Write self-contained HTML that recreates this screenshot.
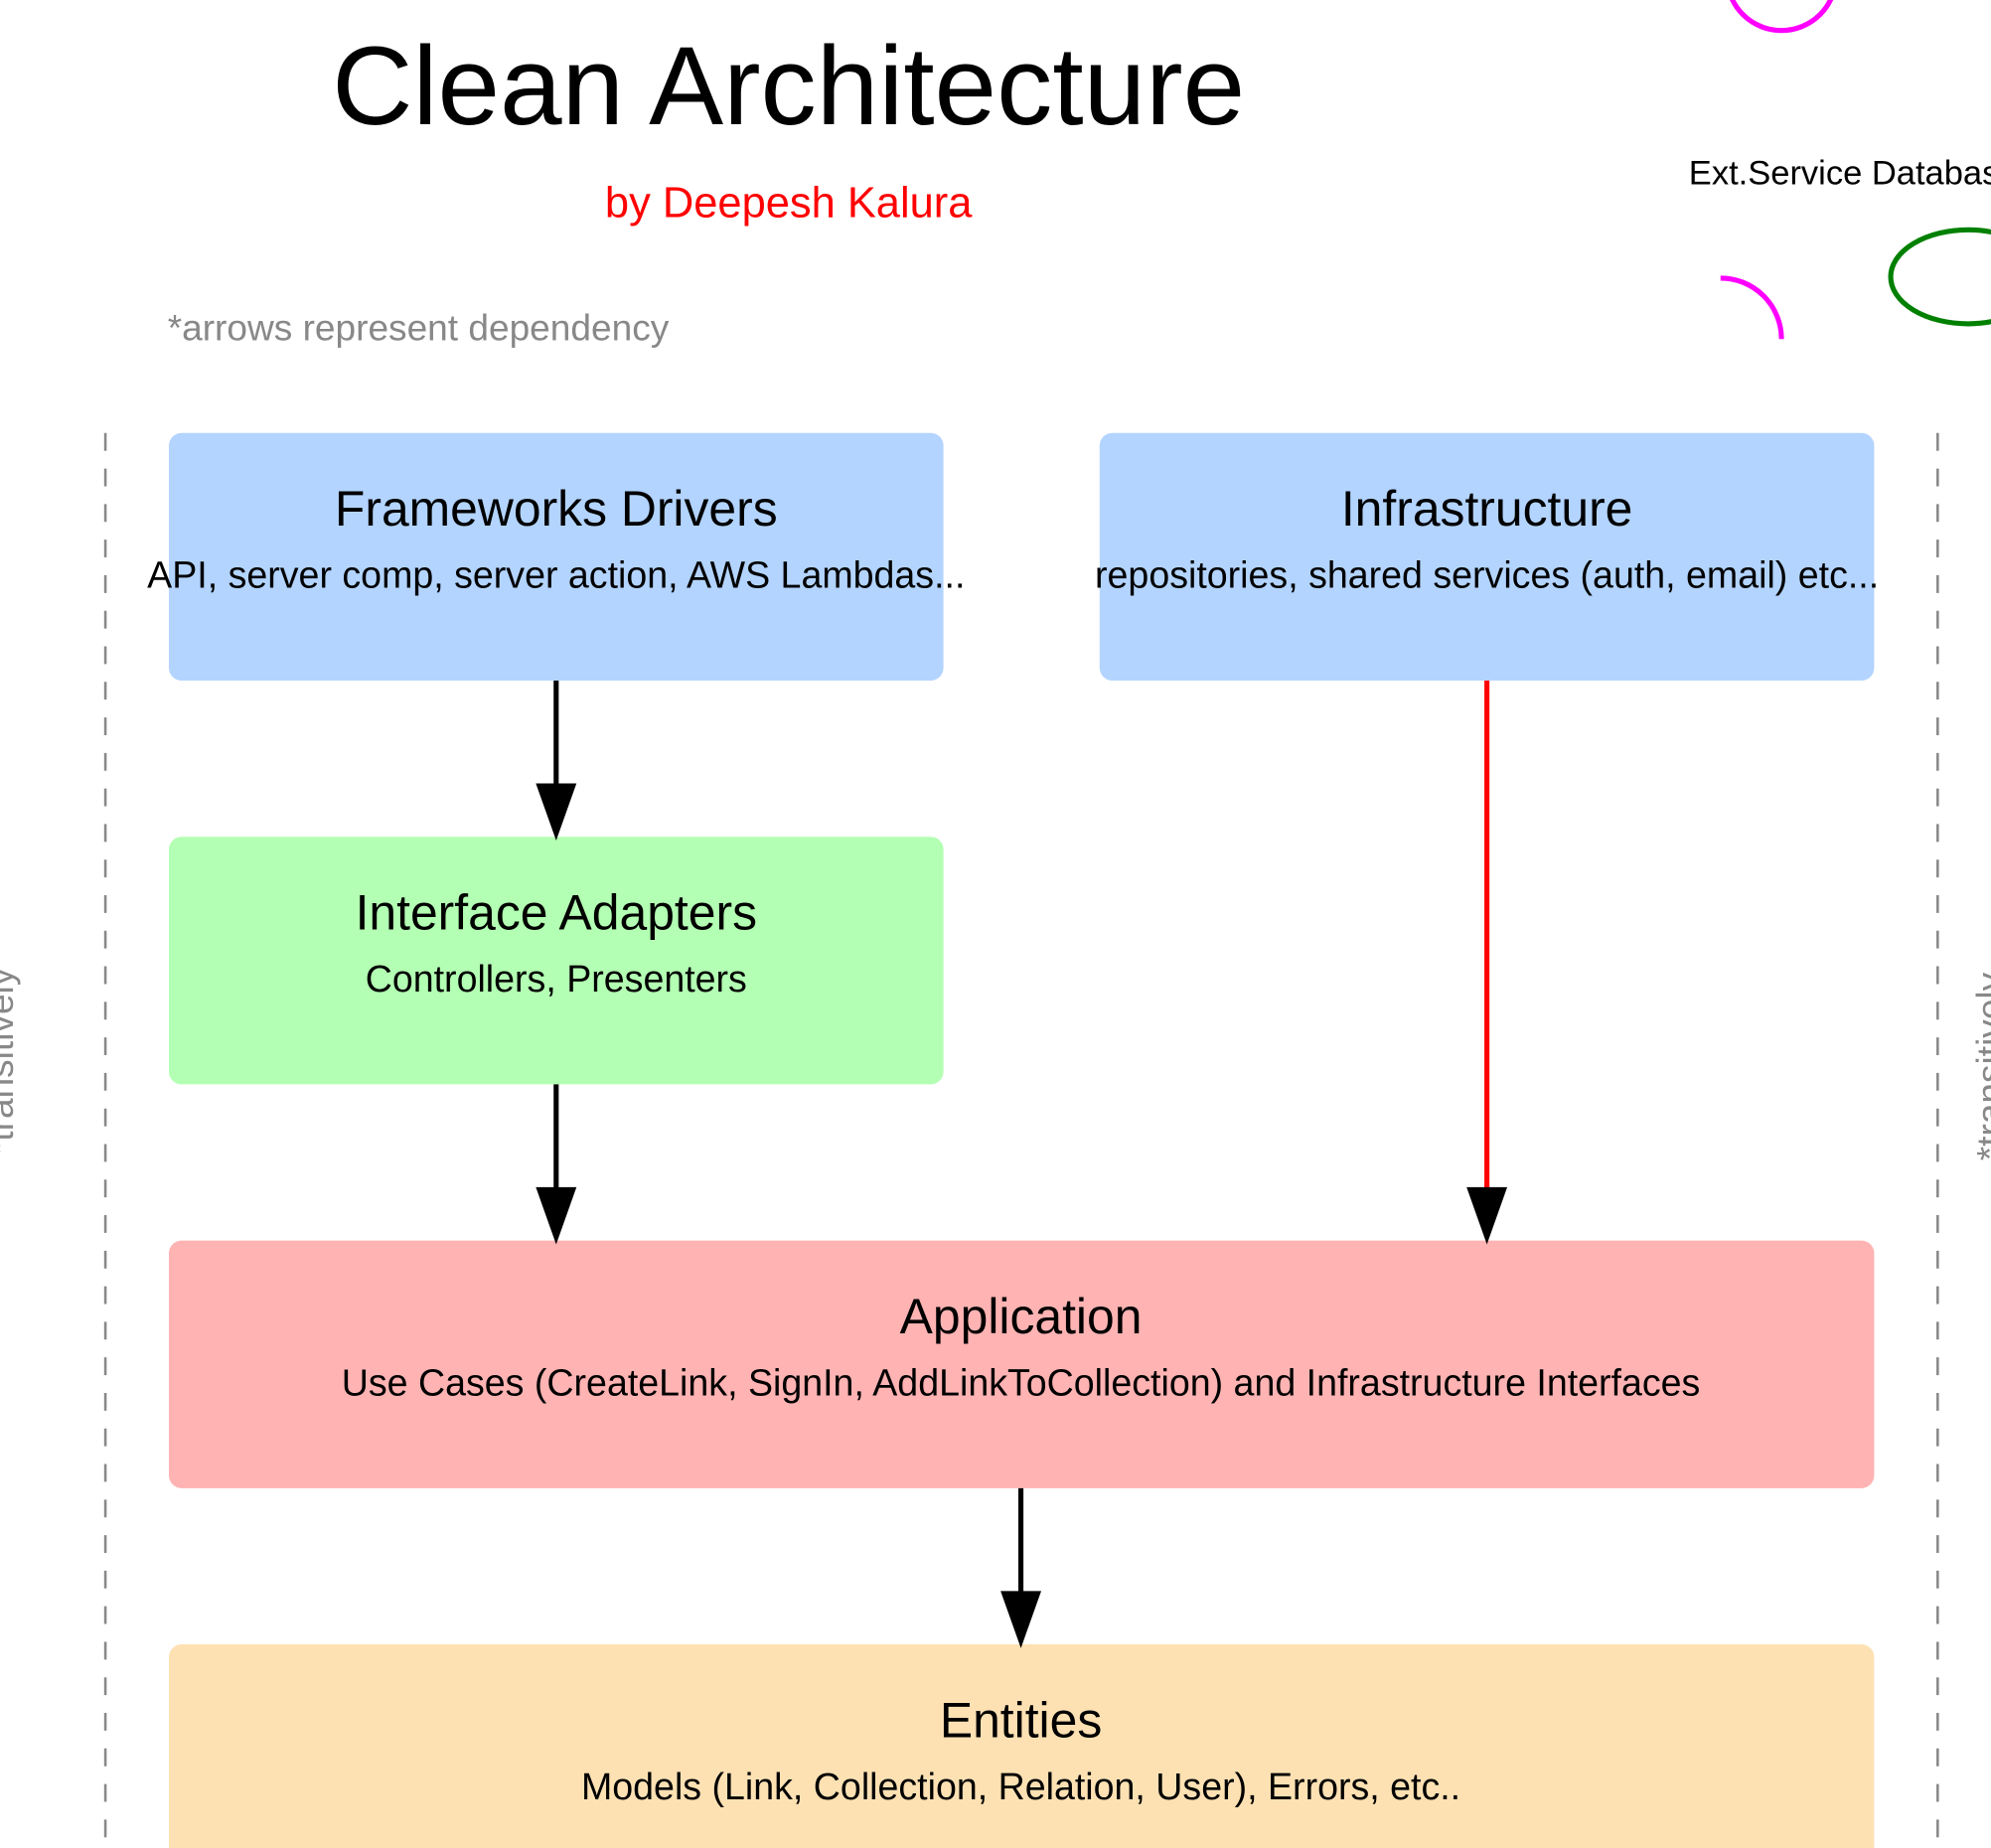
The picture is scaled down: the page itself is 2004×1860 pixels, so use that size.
<!DOCTYPE html>
<html><head><meta charset="utf-8"><style>
html,body{margin:0;padding:0;background:#fff;overflow:hidden}
svg{display:block}
text{font-family:"Liberation Sans",Arial,sans-serif}
</style></head><body>
<svg width="2004" height="1860" viewBox="0 0 1568 1455.4" preserveAspectRatio="none" xmlns="http://www.w3.org/2000/svg">
<rect x="0" y="0" width="1568" height="1456" fill="#fff"/>
<text x="621" y="98" font-size="88" text-anchor="middle" fill="#000">Clean Architecture</text>
<text x="621" y="171" font-size="34" text-anchor="middle" fill="#ff0000">by Deepesh Kalura</text>
<text x="132" y="268" font-size="29" fill="#888">*arrows represent dependency</text>

<circle cx="1403" cy="-19" r="43" fill="none" stroke="#ff00ff" stroke-width="4"/>
<path d="M1355 219 A48 48 0 0 1 1403 267" fill="none" stroke="#ff00ff" stroke-width="4"/>
<ellipse cx="1550" cy="218" rx="61" ry="37" fill="none" stroke="#008000" stroke-width="4"/>
<text x="1330" y="145" font-size="27" fill="#000">Ext.Service Database</text>

<line x1="83" y1="341" x2="83" y2="1456" stroke="#888" stroke-width="2" stroke-dasharray="14,14"/>
<line x1="1526" y1="341" x2="1526" y2="1456" stroke="#888" stroke-width="2" stroke-dasharray="14,14"/>
<text transform="translate(10,836) rotate(-90)" font-size="29" fill="#888" text-anchor="middle">*transitively</text>
<text transform="translate(1577,840) rotate(-90)" font-size="29" fill="#888" text-anchor="middle">*transitively</text>

<rect x="133" y="341" width="610" height="195" rx="10" fill="#b3d4ff"/>
<text x="438" y="414" font-size="39" text-anchor="middle">Frameworks Drivers</text>
<text x="438" y="463" font-size="29.4" text-anchor="middle">API, server comp, server action, AWS Lambdas...</text>

<rect x="866" y="341" width="610" height="195" rx="10" fill="#b3d4ff"/>
<text x="1171" y="414" font-size="39" text-anchor="middle">Infrastructure</text>
<text x="1171" y="463" font-size="29.4" text-anchor="middle">repositories, shared services (auth, email) etc...</text>

<rect x="133" y="659" width="610" height="195" rx="10" fill="#b3ffb3"/>
<text x="438" y="732" font-size="39" text-anchor="middle">Interface Adapters</text>
<text x="438" y="781" font-size="29.4" text-anchor="middle">Controllers, Presenters</text>

<rect x="133" y="977" width="1343" height="195" rx="10" fill="#ffb3b3"/>
<text x="804" y="1050" font-size="39" text-anchor="middle">Application</text>
<text x="804" y="1099" font-size="29.4" text-anchor="middle">Use Cases (CreateLink, SignIn, AddLinkToCollection) and Infrastructure Interfaces</text>

<rect x="133" y="1295" width="1343" height="200" rx="10" fill="#fde1b3"/>
<text x="804" y="1368" font-size="39" text-anchor="middle">Entities</text>
<text x="804" y="1417" font-size="29.4" text-anchor="middle">Models (Link, Collection, Relation, User), Errors, etc..</text>

<line x1="438" y1="536" x2="438" y2="620" stroke="#000" stroke-width="4"/>
<polygon points="422,617 454,617 438,662" fill="#000"/>
<line x1="438" y1="854" x2="438" y2="938" stroke="#000" stroke-width="4"/>
<polygon points="422,935 454,935 438,980" fill="#000"/>
<line x1="1171" y1="536" x2="1171" y2="938" stroke="#ff0000" stroke-width="4"/>
<polygon points="1155,935 1187,935 1171,980" fill="#000"/>
<line x1="804" y1="1172" x2="804" y2="1256" stroke="#000" stroke-width="4"/>
<polygon points="788,1253 820,1253 804,1298" fill="#000"/>
</svg>
</body></html>
